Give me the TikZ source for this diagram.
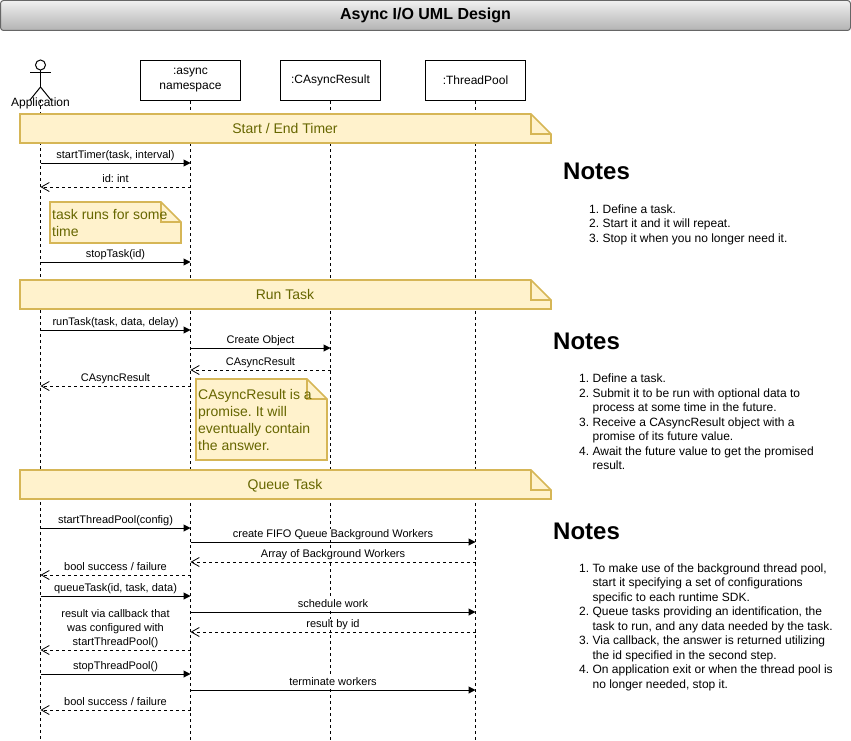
\documentclass[tikz,border=0pt]{standalone}
\usepackage{fontspec}
\setmainfont{Liberation Sans}
\usetikzlibrary{calc, positioning}
\usetikzlibrary{arrows.meta}
\definecolor{noteFill}{HTML}{FFF2CC}
\definecolor{noteLine}{HTML}{D6B656}
\definecolor{noteText}{HTML}{666600}
\definecolor{titleLine}{HTML}{666666}
\frenchspacing
\tikzset{
    lifeBox/.style={draw, fill=white, line width=1pt, minimum width=100pt, minimum height=40pt, inner sep=0pt, align=center, font=\fontsize{12}{15}\selectfont},
    lifeLine/.style={line width=1pt, dash pattern=on 3pt off 3pt},
    callArrow/.style={line width=1pt, -{Triangle[length=7pt,width=7pt]}},
    backArrow/.style={line width=.8pt, dash pattern=on 3pt off 3pt, -{Straight Barb[length=8pt,width=9pt]}},
    msgLabel/.style={fill=white, inner sep=.5pt, anchor=base, align=center, font=\fontsize{11}{14}\selectfont},
    noteBody/.style={draw=noteLine, fill=noteFill, line width=1.6pt},
    noteLabel/.style={text=noteText, inner sep=2pt, align=left, font=\fontsize{14}{17}\selectfont},
    notesHead/.style={anchor=west, inner sep=0pt, font=\fontsize{24}{29}\selectfont\bfseries},
    notesList/.style={anchor=north west, inner sep=0pt, font=\fontsize{12}{14.5}\selectfont},
}

\begin{document}
\begin{tikzpicture}[x=1pt, y=-1pt]
    \def\foldW{20}
    \def\endY{741}
    \useasboundingbox (0,0) rectangle (851,741);

    % 1: id
    % 2: x left, 3: y top
    % 4: x right, 5: y bottom
    \newcommand{\NoteBox}[5]{
        \coordinate (#1/nw) at (#2,#3);
        \coordinate (#1/se) at (#4,#5);
        \coordinate (#1/f0) at (#4-\foldW,#3);
        \coordinate (#1/f1) at (#4,#3+\foldW);
        \coordinate (#1/f2) at (#4-\foldW,#3+\foldW);
        \draw [noteBody] (#1/nw) -- (#1/f0) -- (#1/f1) -- (#1/se) -- (#1/nw |- #1/se) -- cycle;
        \draw [noteBody, fill=none] (#1/f0) -- (#1/f2) -- (#1/f1);
    }

    % 1: label options
    % 2: id, 3: arrow style
    % 4: from, 5: to, 6: y
    % 7: text
    \newcommand{\Msg}[7][]{
        \coordinate (#2/a) at (#4.south |- 0,#6);
        \coordinate (#2/b) at (#5.south |- 0,#6);
        \draw [#3] (#2/a) -- (#2/b);
        \node [msgLabel, yshift=5pt, #1] (#2/lab) at ($(#2/a)!.5!(#2/b)$) {#7};
    }

    % The title bar
    \node [draw=titleLine, line width=1pt, rounded corners=3pt, top color=gray!12, bottom color=gray!60,
        minimum width=850pt, minimum height=30pt, inner sep=0pt, font=\fontsize{16}{19}\selectfont\bfseries]
        (title) at (425.5,15.5) {Async I/O UML Design};

    % The heads of the lifelines
    \node [lifeBox] (async) at (190.5,80.5) {:async\\namespace};
    \node [lifeBox] (result) at (330.5,80.5) {:CAsyncResult};
    \node [lifeBox] (pool) at (475.5,80.5) {:ThreadPool};

    % The actor
    \coordinate (app) at (40.5,100);
    \node [draw, circle, line width=1pt, minimum size=10pt, inner sep=0pt] (appHead) at (40.5,65) {};
    \coordinate (appHip) at (40.5,87);
    \coordinate (appArmL) at (30,73);
    \coordinate (appArmR) at (51,73);
    \coordinate (appLegL) at (30,100);
    \coordinate (appLegR) at (51,100);
    \draw [line width=1pt] (appHead) -- (appHip);
    \draw [line width=1pt] (appArmL) -- (appArmR);
    \draw [line width=1pt] (appLegL) -- (appHip) -- (appLegR);

    \foreach \who in {app,async,result,pool}{
        \coordinate (\who/end) at (\who.south |- 0,\endY);
        \draw [lifeLine] (\who.south) -- (\who/end);
    }
    \node [inner sep=0pt, font=\fontsize{12}{15}\selectfont] (appName) at (40.5,103) {Application};

    % Start / End Timer
    \NoteBox{timerBand}{20}{114}{551}{143}
    \node [noteLabel] (timerText) at (285,128.5) {Start / End Timer};
    \Msg{m1}{callArrow}{app}{async}{163}{startTimer(task, interval)}
    \Msg{m2}{backArrow}{async}{app}{187}{id: int}
    \NoteBox{timerNote}{50}{202}{181}{243}
    \node [noteLabel, anchor=west] (timerNoteText) at (timerNote/nw |- 0,222.5) {task runs for some\\time};
    \Msg{m3}{callArrow}{app}{async}{262}{stopTask(id)}

    % Run Task
    \NoteBox{runBand}{20}{280}{551}{309}
    \node [noteLabel] (runText) at (285,294.5) {Run Task};
    \Msg{m4}{callArrow}{app}{async}{330}{runTask(task, data, delay)}
    \Msg{m5}{callArrow}{async}{result}{348}{Create Object}
    \Msg{m6}{backArrow}{result}{async}{370}{CAsyncResult}
    \Msg{m7}{backArrow}{async}{app}{386}{CAsyncResult}
    \NoteBox{runNote}{196}{379}{327}{460}
    \node [noteLabel, anchor=west] (runNoteText) at (runNote/nw |- 0,419.5) {CAsyncResult is a\\promise. It will\\eventually contain\\the answer.};

    % Queue Task
    \NoteBox{queueBand}{20}{470}{551}{499}
    \node [noteLabel] (queueText) at (285,485.5) {Queue Task};
    \Msg{m8}{callArrow}{app}{async}{528}{startThreadPool(config)}
    \Msg{m9}{callArrow}{async}{pool}{542}{create FIFO Queue Background Workers}
    \Msg{m10}{backArrow}{pool}{async}{562}{Array of Background Workers}
    \Msg{m11}{backArrow}{async}{app}{575}{bool success / failure}
    \Msg{m12}{callArrow}{app}{async}{596}{queueTask(id, task, data)}
    \Msg{m13}{callArrow}{async}{pool}{612}{schedule work}
    \Msg{m14}{backArrow}{pool}{async}{632}{result by id}
    \Msg[anchor=south, yshift=-3pt]{m15}{backArrow}{async}{app}{650}{result via callback that\\was configured with\\startThreadPool()}
    \Msg{m16}{callArrow}{app}{async}{674}{stopThreadPool()}
    \Msg{m17}{callArrow}{async}{pool}{690}{terminate workers}
    \Msg{m18}{backArrow}{async}{app}{710}{bool success / failure}

    % The notes at the right
    \node [notesHead] (notes1) at (563,171) {Notes};
    \node [notesList] (list1) at (589,203) {\begin{tabular}{@{}r@{\hspace{3.4pt}}l@{}}
        1. & Define a task.\\
        2. & Start it and it will repeat.\\
        3. & Stop it when you no longer need it.
    \end{tabular}};
    \node [notesHead] (notes2) at (553,341) {Notes};
    \node [notesList] (list2) at (579,372.5) {\begin{tabular}{@{}r@{\hspace{3.4pt}}l@{}}
        1. & Define a task.\\
        2. & Submit it to be run with optional data to\\
           & process at some time in the future.\\
        3. & Receive a CAsyncResult object with a\\
           & promise of its future value.\\
        4. & Await the future value to get the promised\\
           & result.
    \end{tabular}};
    \node [notesHead] (notes3) at (553,531) {Notes};
    \node [notesList] (list3) at (579,562) {\begin{tabular}{@{}r@{\hspace{3.4pt}}l@{}}
        1. & To make use of the background thread pool,\\
           & start it specifying a set of configurations\\
           & specific to each runtime SDK.\\
        2. & Queue tasks providing an identification, the\\
           & task to run, and any data needed by the task.\\
        3. & Via callback, the answer is returned utilizing\\
           & the id specified in the second step.\\
        4. & On application exit or when the thread pool is\\
           & no longer needed, stop it.
    \end{tabular}};

\end{tikzpicture}
\end{document}
